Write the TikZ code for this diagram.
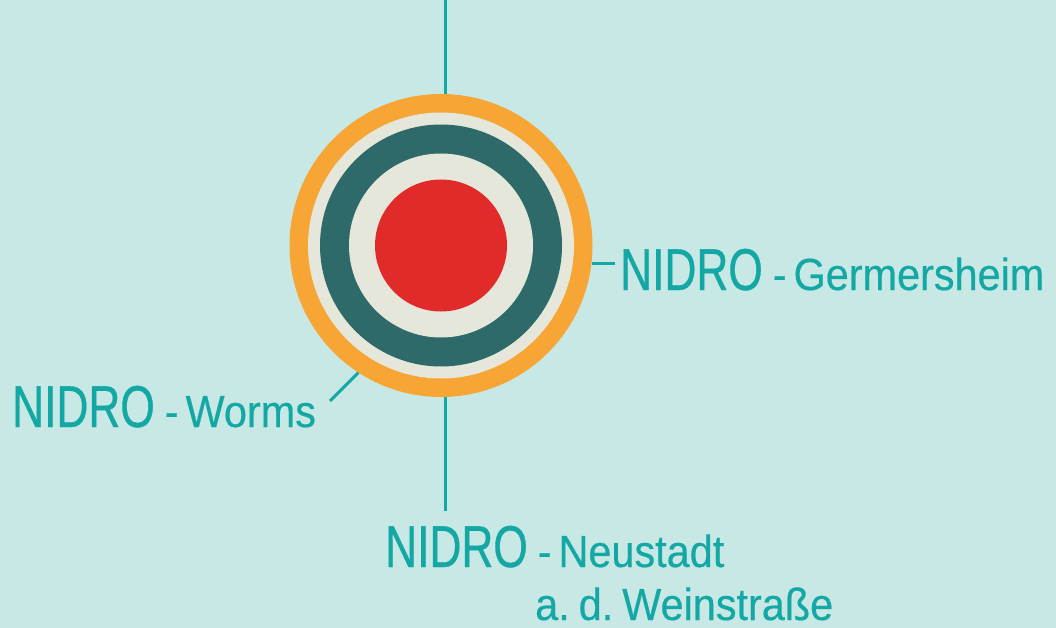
\documentclass[tikz,border=0pt]{standalone}
\usepackage{fontspec}
\setmainfont{Liberation Sans}
\newfontfamily\bigfont{Liberation Sans}[FakeStretch=0.75,FakeBold=0.6]
\newfontfamily\smallfont{Liberation Sans}[FakeStretch=0.92,FakeBold=0.4]
\usetikzlibrary{positioning,calc}

\definecolor{bgteal}{HTML}{C8E8E6}
\definecolor{linkteal}{HTML}{13A8A4}
\definecolor{ringorange}{HTML}{F7A535}
\definecolor{ringcream}{HTML}{E4E7D9}
\definecolor{ringdark}{HTML}{2D6A69}
\definecolor{ringred}{HTML}{E12B2B}

\newcommand{\site}[1]{{\bigfont\fontsize{59}{59}\selectfont NIDRO}\hspace{10pt}{\smallfont\fontsize{45}{53}\selectfont -\hspace{7pt}#1}}

\begin{document}
\begin{tikzpicture}[x=1pt, y=-1pt,
  disc/.style={circle, inner sep=0pt, draw=none},
  link/.style={draw=linkteal, line width=3pt},
  place/.style={inner sep=0pt, anchor=base west, text=linkteal}]
  \useasboundingbox (0,0) rectangle (1056,628);
  \fill[bgteal] (0,0) rectangle (1056,628);

  % target rings
  \node[disc, fill=ringorange, minimum size=303pt] (target) at (441,245.5) {};
  \node[disc, fill=ringcream, minimum size=266pt] (ringa) at (target) {};
  \node[disc, fill=ringdark, minimum size=242pt] (ringb) at (target) {};
  \node[disc, fill=ringcream, minimum size=184pt] (ringc) at (target) {};
  \node[disc, fill=ringred, minimum size=132pt] (bull) at (target) {};

  % sites
  \node[place] (germ) at (620,290) {\site{Germersheim}};
  \node[place] (worms) at (12,427) {\site{Worms}};
  \node[place] (neu) at (385,567) {\site{Neustadt}};
  \node[place] (neub) at (535,620) {\smallfont\fontsize{45}{53}\selectfont a.\hspace{9pt}d.\hspace{9pt}Weinstraße};

  % connectors
  \coordinate (topend) at (445,0);
  \coordinate (bottomend) at (445,511);
  \coordinate (wormsend) at (330,401);
  \draw[link] (topend) -- (topend |- target.north);
  \draw[link] (bottomend |- target.south) -- (bottomend);
  \draw[link] (target.-7) -- ($(germ.west |- target.-7)+(-5,0)$);
  \draw[link] (target.237) -- (wormsend);
\end{tikzpicture}
\end{document}
